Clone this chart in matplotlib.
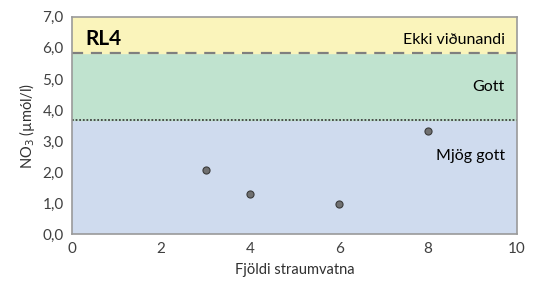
import matplotlib.pyplot as plt

plt.rcParams['font.family'] = ['Lato', 'DejaVu Sans']

# data
fjoldi = [3, 4, 6, 8]
no3 = [2.06, 1.29, 0.97, 3.32]

# class limits
mjog_gott_max = 3.68
gott_max = 5.84
y_max = 7.0
x_min, x_max = 0, 10

x_ticks = [0, 2, 4, 6, 8, 10]
y_ticks = [0, 1, 2, 3, 4, 5, 6, 7]

fig = plt.figure(figsize=(5.35, 2.91), dpi=100)
ax = fig.add_axes([0.1346, 0.196, 0.832, 0.746])

ax.axhspan(0, mjog_gott_max, color='#cfdbee', zorder=0)
ax.axhspan(mjog_gott_max, gott_max, color='#c0e3cf', zorder=0)
ax.axhspan(gott_max, y_max, color='#faf4bb', zorder=0)
ax.axhline(gott_max, color='#7f7f7f', lw=1.6, ls=(0, (5, 3.5)), zorder=1)
ax.axhline(mjog_gott_max, color='#404040', lw=1.3, ls=(0, (1, 1)), zorder=1)

ax.scatter(fjoldi, no3, s=26, color='#707070', edgecolor='#3a3a3a', lw=0.8, zorder=3)

ax.text(0.3, 6.3, 'RL4', fontsize=15, fontweight='bold', va='center', color='black')
ax.text(9.72, 6.26, 'Ekki viðunandi', fontsize=11.5, ha='right', va='center', color='black')
ax.text(9.72, 4.74, 'Gott', fontsize=11.5, ha='right', va='center', color='black')
ax.text(9.72, 2.5, 'Mjög gott', fontsize=11.5, ha='right', va='center', color='black')

ax.set_xlim(x_min, x_max)
ax.set_ylim(0, y_max)
ax.set_xticks(x_ticks)
ax.set_yticks(y_ticks)
ax.set_yticklabels([f'{v:.1f}'.replace('.', ',') for v in y_ticks])
ax.tick_params(length=0, labelsize=11, labelcolor='#404040', pad=6)
for s in ax.spines.values():
    s.set_color('#9a9a9a')
    s.set_linewidth(1.2)

ax.set_xlabel('Fjöldi straumvatna', fontsize=10.5, color='#303030', labelpad=5)
ax.set_ylabel('NO$_3$ (µmól/l)', fontsize=10.5, color='#303030', labelpad=4)

fig.savefig('out.png', dpi=100)
